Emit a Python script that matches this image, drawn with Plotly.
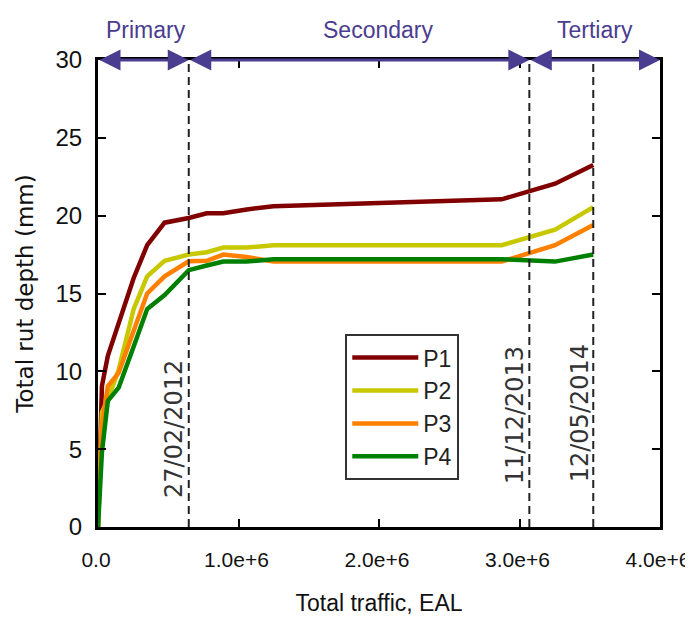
import plotly.graph_objects as go

# ---- data ----
traffic = [0, 0.028e6, 0.07e6, 0.147e6, 0.254e6, 0.35e6, 0.474e6, 0.646e6,
           0.774e6, 0.892e6, 1.058e6, 1.248e6, 2.873e6, 3.253e6, 3.525e6]
p1 = [0, 9.05, 11.0, 13.1, 16.0, 18.1, 19.55, 19.85, 20.15, 20.15, 20.4, 20.6, 21.05, 22.05, 23.25]
p2 = [0, 7.35, 8.2, 10.1, 14.0, 16.1, 17.1, 17.5, 17.65, 17.95, 17.95, 18.1, 18.1, 19.1, 20.55]
p3 = [0, 6.5, 9.05, 9.9, 12.6, 15.0, 16.1, 17.07, 17.1, 17.5, 17.35, 17.05, 17.05, 18.1, 19.4]
p4 = [0, 4.8, 8.1, 8.95, 11.6, 14.0, 14.9, 16.5, 16.8, 17.05, 17.05, 17.2, 17.2, 17.05, 17.5]
series_names = ["P1", "P2", "P3", "P4"]
series_colors = ["#800000", "#C8C800", "#FF8000", "#008000"]

date_x = [0.646e6, 3.07e6, 3.525e6]
date_labels = ["27/02/2012", "11/12/2013", "12/05/2014"]
date_label_x = [0.541e6, 2.97e6, 3.43e6]
date_label_y = [6.3, 7.2, 7.3]

phase_names = ["Primary", "Secondary", "Tertiary"]
phase_bounds = [0, 0.646e6, 3.07e6, 4.0e6]
phase_label_x = [0.34e6, 1.99e6, 3.54e6]

xtick_vals = [0, 1e6, 2e6, 3e6, 4e6]
xtick_text = ["0.0", "1.0e+6", "2.0e+6", "3.0e+6", "4.0e+6"]

NARROW = "Liberation Sans, Arial, sans-serif"
WIDE = "DejaVu Sans, Verdana, sans-serif"
PURPLE = "#4A3D8F"

fig = go.Figure()
for name, ys, col in zip(series_names, [p1, p2, p3, p4], series_colors):
    fig.add_trace(go.Scatter(x=traffic, y=ys, mode="lines", name=name,
                             line=dict(color=col, width=4.5)))

shapes = []
for dx in date_x:
    shapes.append(dict(type="line", xref="x", yref="y", x0=dx, x1=dx, y0=0, y1=30,
                       line=dict(color="#222222", width=2, dash="8px,5px")))

annotations = []
for lbl, lx, ly in zip(date_labels, date_label_x, date_label_y):
    annotations.append(dict(x=lx, y=ly, xref="x", yref="y", text=lbl, showarrow=False,
                            textangle=-90, font=dict(family=WIDE, size=24, color="#333333")))
for i, nm in enumerate(phase_names):
    annotations.append(dict(x=phase_bounds[i + 1], y=30, ax=phase_bounds[i], ay=30,
                            xref="x", yref="y", axref="x", ayref="y", text="",
                            showarrow=True, arrowside="end+start",
                            arrowhead=2, startarrowhead=2,
                            arrowsize=1.4, startarrowsize=1.4,
                            arrowwidth=3, arrowcolor=PURPLE))
    annotations.append(dict(x=phase_label_x[i], y=1.064, xref="x", yref="paper",
                            text=nm, showarrow=False, yanchor="middle",
                            font=dict(family=NARROW, size=23, color=PURPLE)))

# the page body adds an 8px margin, so the figure is sized to fit inside the window
fig.update_layout(
    width=685, height=608,
    margin=dict(l=90, r=33, t=52, b=89),
    paper_bgcolor="white", plot_bgcolor="white",
    showlegend=True,
    legend=dict(x=0.44, y=0.413, xanchor="left", yanchor="top",
                bgcolor="white", bordercolor="#333333", borderwidth=2,
                font=dict(family=NARROW, size=23, color="#222222"),
                itemwidth=66),
    shapes=shapes,
    annotations=annotations,
    xaxis=dict(range=[0, 4e6], tickvals=xtick_vals, ticktext=xtick_text,
               ticks="inside", ticklen=8, tickwidth=2, tickcolor="black",
               showline=True, linewidth=3, linecolor="black", mirror="ticks",
               showgrid=False, zeroline=False, ticklabelstandoff=12,
               ticklabelshift=-2,
               ticklabeloverflow="allow", automargin=False,
               tickfont=dict(family=NARROW, size=21, color="#111111"),
               title=dict(text="Total traffic, EAL", standoff=32,
                          font=dict(family=NARROW, size=23, color="#111111"))),
    yaxis=dict(range=[0, 30], dtick=5, tick0=0,
               ticks="inside", ticklen=8, tickwidth=2, tickcolor="black",
               showline=True, linewidth=3, linecolor="black", mirror="ticks",
               showgrid=False, zeroline=False, ticklabelstandoff=8,
               automargin=False,
               tickfont=dict(family=NARROW, size=24, color="#111111"),
               title=dict(text="Total rut depth (mm)", standoff=16,
                          font=dict(family=WIDE, size=23, color="#111111"))),
)

fig.write_html("out.html")
